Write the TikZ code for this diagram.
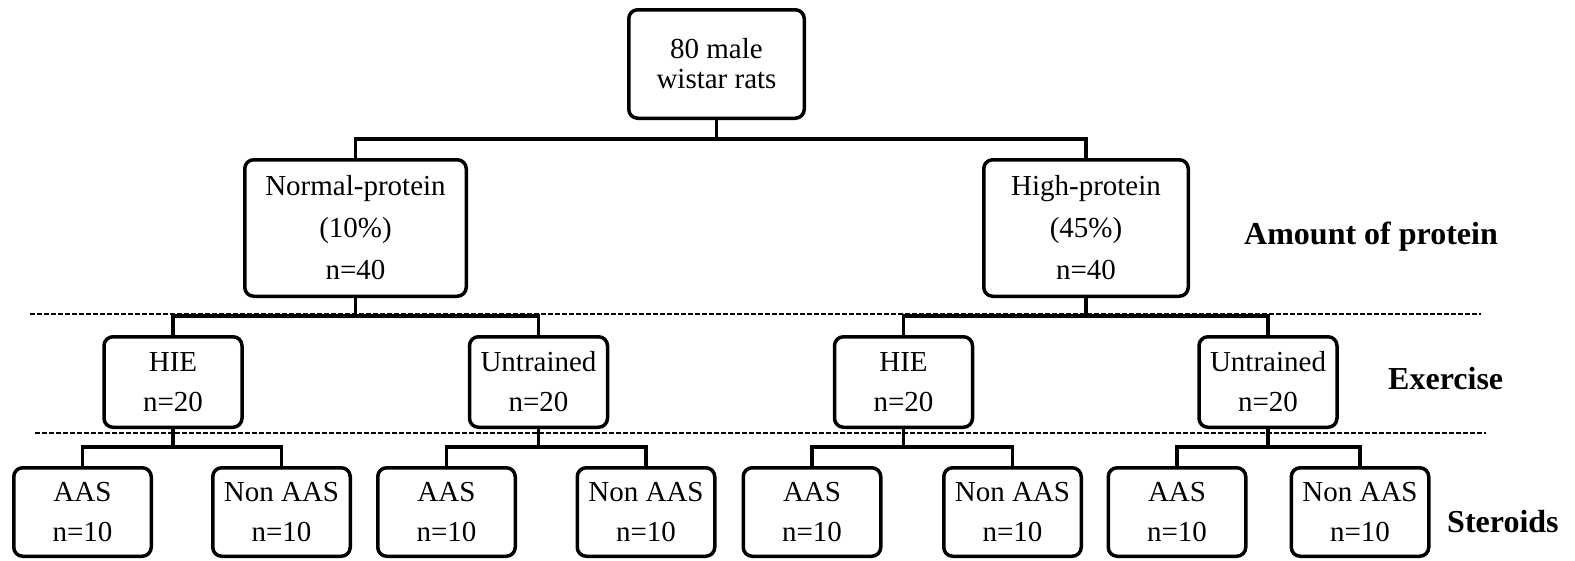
\documentclass[tikz,border=0pt]{standalone}
\usepackage{fontspec}
\setmainfont{Liberation Serif}
\begin{document}
\begin{tikzpicture}[x=1pt,y=-1pt,
  box/.style={draw, line width=3.5pt, rounded corners=9pt, align=center, inner sep=0pt, fill=white},
  bottombox/.style={box, minimum width=137.5pt, minimum height=88.5pt, font=\fontsize{29}{40}\selectfont},
  midbox/.style={box, minimum width=138pt, minimum height=90.5pt, font=\fontsize{29}{40}\selectfont},
  protbox/.style={box, minimum height=136.5pt, font=\fontsize{29}{42}\selectfont},
  conn/.style={line width=3.5pt},
  sep/.style={line width=1.3pt, dash pattern=on 4.5pt off 2.5pt},
  lab/.style={anchor=west, inner sep=0pt, font=\fontsize{32}{36}\selectfont\bfseries}]
\useasboundingbox (0,0) rectangle (1575,560);
% separators
\draw[sep] (30,314) -- (1481,314);
\draw[sep] (35,433) -- (1486,433);
% level coordinates
\coordinate (L1) at (0,139);
\coordinate (L2) at (0,316);
\coordinate (L3) at (0,447);
% nodes
\node[box, minimum width=175.5pt, minimum height=108.5pt, font=\fontsize{29}{30}\selectfont] (top) at (716.5,64) {80 male\\wistar rats};
\node[protbox, minimum width=221.5pt] (normal) at (355.5,228) {Normal-protein\\(10\%)\\n=40};
\node[protbox, minimum width=204.5pt] (high) at (1086,228) {High-protein\\(45\%)\\n=40};
\node[midbox] (hieL) at (173,382) {HIE\\n=20};
\node[midbox] (untL) at (538.5,382) {Untrained\\n=20};
\node[midbox] (hieR) at (903.5,382) {HIE\\n=20};
\node[midbox] (untR) at (1268,382) {Untrained\\n=20};
\node[bottombox] (a1) at (82.5,512) {AAS\\n=10};
\node[bottombox] (n1) at (281.5,512) {Non AAS\\n=10};
\node[bottombox] (a2) at (446.5,512) {AAS\\n=10};
\node[bottombox] (n2) at (646,512) {Non AAS\\n=10};
\node[bottombox] (a3) at (812,512) {AAS\\n=10};
\node[bottombox] (n3) at (1012.5,512) {Non AAS\\n=10};
\node[bottombox] (a4) at (1177,512) {AAS\\n=10};
\node[bottombox] (n4) at (1360,512) {Non AAS\\n=10};
% connectors
\draw[conn] (top.south) -- (top.south |- L1) -| (normal.north);
\draw[conn] (top.south) -- (top.south |- L1) -| (high.north);
\draw[conn] (normal.south) -- (normal.south |- L2) -| (hieL.north);
\draw[conn] (normal.south) -- (normal.south |- L2) -| (untL.north);
\draw[conn] (high.south) -- (high.south |- L2) -| (hieR.north);
\draw[conn] (high.south) -- (high.south |- L2) -| (untR.north);
\draw[conn] (hieL.south) -- (hieL.south |- L3) -| (a1.north);
\draw[conn] (hieL.south) -- (hieL.south |- L3) -| (n1.north);
\draw[conn] (untL.south) -- (untL.south |- L3) -| (a2.north);
\draw[conn] (untL.south) -- (untL.south |- L3) -| (n2.north);
\draw[conn] (hieR.south) -- (hieR.south |- L3) -| (a3.north);
\draw[conn] (hieR.south) -- (hieR.south |- L3) -| (n3.north);
\draw[conn] (untR.south) -- (untR.south |- L3) -| (a4.north);
\draw[conn] (untR.south) -- (untR.south |- L3) -| (n4.north);
% labels
\node[lab] (amt) at (1244,237) {Amount of protein};
\node[lab] (exe) at (1388,379) {Exercise};
\node[lab] (ste) at (1447,522) {Steroids};
\end{tikzpicture}
\end{document}
